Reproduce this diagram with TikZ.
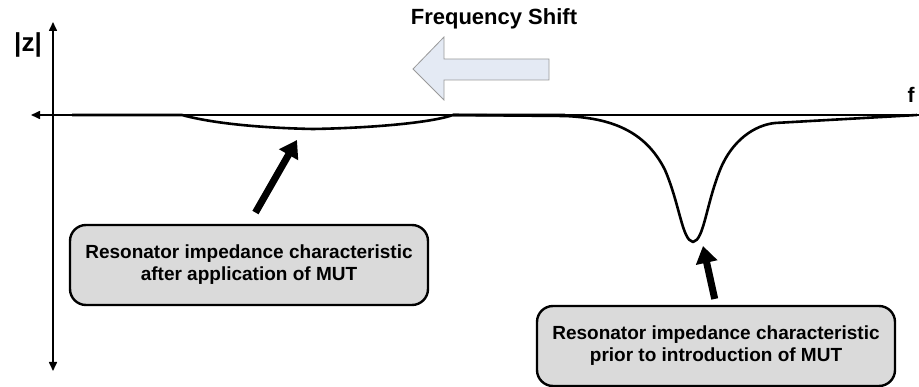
\documentclass[tikz,border=0pt]{standalone}
\usepackage{fontspec}
\setmainfont{Liberation Sans}
\usetikzlibrary{arrows.meta,positioning}
\definecolor{shiftfill}{HTML}{E4EAF4}
\definecolor{shiftedge}{HTML}{9A9A9A}
\definecolor{boxfill}{HTML}{DADADA}
\begin{document}
\begin{tikzpicture}[x=1pt, y=-1pt,
    axis/.style={line width=1.6pt, -{Triangle[length=9pt,width=8pt]}},
    trace/.style={line width=2.6pt, line join=round},
    pointer/.style={line width=7pt, -{Triangle[length=17pt,width=21pt]}},
    notebox/.style={draw, line width=2.4pt, fill=boxfill, rounded corners=16pt,
        minimum width=358pt, minimum height=80pt, align=center,
        font=\fontsize{19}{22}\selectfont\bfseries}]
    \useasboundingbox (0,0) rectangle (919,387);

    % axes
    \coordinate (origin) at (53,115);
    \coordinate (ytop) at (53,22);
    \coordinate (ybot) at (53,371);
    \coordinate (xleft) at (31,115);
    \coordinate (xright) at (919,115);
    \draw[axis, {Triangle[length=9pt,width=8pt]}-{Triangle[length=9pt,width=8pt]}] (ybot) -- (ytop);
    \draw[axis] (xright) -- (xleft);
    \node[font=\fontsize{26}{28}\selectfont\bfseries] (zlabel) at (28,45) {|z|};
    \node[font=\fontsize{21}{24}\selectfont\bfseries] (flabel) at (911,95) {f};

    % frequency shift
    \node[font=\fontsize{22}{24}\selectfont\bfseries] (shift) at (494,19) {Frequency Shift};
    \draw[shiftedge, fill=shiftfill, line width=0.8pt]
        (413,69) -- (444,37) -- (444,59) -- (549,59) -- (549,80) -- (444,80) -- (444,100) -- cycle;

    % after MUT
    \draw[trace] (72,115) -- (182,115) .. controls (215,124) and (265,128) .. (313,129)
        .. controls (370,128) and (430,123) .. (453,115) -- (565,115);
    % prior to MUT
    \draw[trace] (453,115) -- (565,116) .. controls (610,118) and (645,130) .. (665,170)
        .. controls (680,205) and (682,240) .. (693,242)
        .. controls (704,240) and (706,205) .. (720,170)
        .. controls (732,140) and (755,125) .. (775,123) -- (917,115);

    \coordinate (dip1) at (297,140);
    \coordinate (dip2) at (703,246);

    \node[notebox] (box1) at (249,265) {Resonator impedance characteristic\\after application of MUT};
    \node[notebox] (box2) at (716,346) {Resonator impedance characteristic\\prior to introduction of MUT};

    \draw[pointer, shorten <=13pt] (box1.north) -- (dip1);
    \draw[pointer, shorten <=6pt] (box2.north) -- (dip2);
\end{tikzpicture}
\end{document}
